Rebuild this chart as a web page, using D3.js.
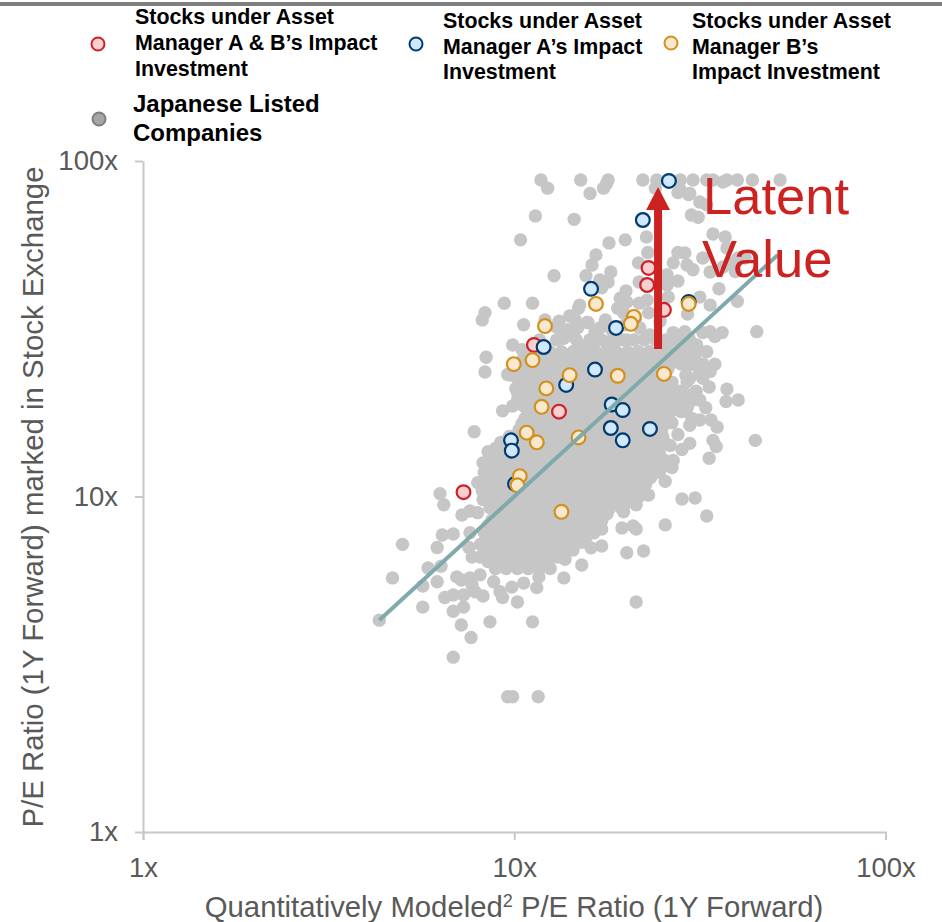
<!DOCTYPE html>
<html lang="en">
<head>
<meta charset="UTF-8">
<title>P/E Ratio scatter</title>
<script src="https://cdn.jsdelivr.net/npm/d3@7"></script>
<style>
  body { margin: 0; background: #fff; }
  text { font-family: "Liberation Sans", Arial, sans-serif; }
</style>
</head>
<body>
<div id="my_dataviz"></div>
<script>

// values are multiples (x = modeled P/E, y = market P/E)
var axisTicks = [1, 10, 100];
var tickLabels = ["1x", "10x", "100x"];

var companies = [
  [11.8,87.8],[12.3,83],[15.1,87.8],[16,80],[17.9,87.8],[17.7,85.4],[17.4,83],[22.2,87.8],[24.2,87.8],[24,83],
  [27.6,80.5],[29.5,79.5],[28,87.8],[30.3,87.8],[33,87.8],[34.3,87.8],[37.4,87.8],[39.9,87.8],[43.8,87.8],[52,87.8],
  [36.5,86.6],[28,82],[29.7,80],[31.6,75.5],[30,69],[31.3,68],[33,74],[11.4,68.6],[14.5,67],[10.4,58.2],
  [22.7,59.4],[19.9,58.2],[18,57],[16.6,52.5],[16.2,49],[15.6,45.5],[12.8,45.5],[22.9,53.4],[21.6,49.7],[18.2,46.7],
  [17,44.2],[17.9,43.6],[17.2,41.9],[34.3,60.6],[37,59.4],[27.6,53.4],[28.8,53.2],[26.8,49.7],[32.2,51.4],[29.2,49],
  [30.3,47.4],[33.7,46.7],[25.8,45.8],[27.6,43.9],[35.6,41.6],[25.8,42.7],[26,39.3],[31.6,39.3],[33.7,37.2],[39.9,38.2],
  [29.3,35],[20,41],[19.3,39],[19,36.4],[20.1,38],[21.7,37.7],[21.7,43.6],[23,35.3],[19.7,35.3],[14.9,36.4],
  [14.1,34.5],[13.2,33.3],[9.4,37.7],[11.2,37.7],[8.34,35.3],[8.2,33.6],[10.6,32.5],[15,37.2],[15.8,33],[17,31.8],
  [14.8,31.8],[13.9,31.4],[21.8,31.8],[24.7,33.3],[45,31],[36.3,30.8],[33.7,31],[28.8,31],[26.8,30.8],[22.8,38.5],
  [36.5,48.3],[38.1,49.7],[41.9,51.4],[37.4,55],[40.1,51.4],[39.4,46.8],[34.7,30],[32.2,30.8],
  [8.4,26],[8.34,23.5],[9.9,28.3],[10.5,27.4],[13,32],[15.7,33],[16.5,31],[14,30.3],[13.6,29.6],[15,28.1],
  [16.3,27.9],[18.5,27.9],[20.1,29.3],[31,28.3],[33,27],[34.7,24.8],[33.7,23.6],[29.7,24.7],[31.6,23.6],[33.5,21.2],
  [37.4,20.9],[40.1,19.4],[37.2,19.2],[30.9,20.6],[29.2,22],[28,20.6],[29.3,18.5],[32.8,18.4],[30.1,17.1],[33.9,16.9],
  [35.2,16.1],[26.6,16.6],[27.6,15.3],[29.7,14.4],[28.3,13.8],[34.3,14.7],[35,14.1],[44.6,14.7],[33.5,13],[26.8,12.8],
  [26.6,12.2],[23.2,11.9],[25.5,11.1],[21.4,11.1],[24.7,13.1],[24.7,16],[25.8,18.5],[24.7,21.5],[28,26.4],[25.8,28],
  [29.2,28.7],[9.3,18],[9.9,18.6],[10.2,20.4],[9.6,23.1],[10.5,21.3],[10.9,17.7],[10.5,16.5],[9.27,14.5],[8.5,13.6],
  [8.24,12.6],[9.15,13.1],[8.7,12],[8.34,11.2],[7.8,15.6],[7.97,11],[6.31,10.2],[6.46,9.45],[7.23,8.81],[7.6,9.05],
  [7.97,8.95],[8.24,9.8],[6.4,7.68],[6.85,7.73],[5,7.2],[6.2,7.05],[7.6,7.8],[7.55,7.05],[7.7,6.6],[5.86,6.12],
  [6.35,6.2],[4.7,5.72],[6.2,5.57],[5.67,5.41],[7,5.76],[7.2,5.64],[7.6,5.72],[8.09,5.84],[6.5,5],[6.85,5.09],
  [7.3,5.09],[7.84,5.2],[8.24,5.05],[7.7,5.45],[8.8,5.57],[9.15,5.2],[9.3,5],[9.85,5.37],[10.6,5.52],[11.5,5.35],
  [11.65,5.76],[10.2,4.85],[13.6,5.72],[15.2,6.25],[12.5,6.55],[13.7,6.5],[11.7,6.25],[17.2,7.12],[16.1,7.03],[15.2,7.3],
  [14.4,6.93],[14.1,7.58],[20.1,6.8],[22.3,6.88],[21.3,4.85],[6.85,4.55],[7.3,4.68],[5.67,4.68],[7.2,4.14],[8.6,4.23],
  [11.2,4.23],[7.65,3.8],[6.85,3.32],[9.6,2.53],[9.9,2.53],[11.6,2.53],[4.33,4.28],[17.2,8],[19.5,8.06],[20.9,8.17],
  [21.3,8],[25.5,8.23],[33,8.75],[28.3,9.83],[30.7,9.9],[23,10.1],[21.3,9.45],[19.7,9],[17.2,8.51],[18.9,9.45],[20.9,10.2],
  [17.6,33.6],[18.3,31.4],[19.9,32.5],[23.2,30.3],[21.2,33.8],[29.7,29.3],[30.7,26.4],[29.7,22.5],[30.3,20.1],[32.2,22.5],
  [31.6,19.4],[27.1,19.4],[26,17.5],[26.6,18.1],[29.7,16.3],[26.3,14.2],[28,18.1],[31.6,16.9],[25.5,26.4],[12.1,33.6],
  [13.3,29.6],[14.6,33.6],[16,29.3],[18.1,28.3]
];

// the solid middle of the cloud, row by row
var denseY = [29.3,27,25.9,24.8,23.9,23,21.9,21,20.2,19.4,18.6,17.9,17.1,16.4,15.8,15.1,14.5,13.9,13.4,12.8,12.3,11.8,11.4,10.9,10.4,10,9.6,9.25,8.9,8.5,8.2,7.8,7.55,7.2,6.95,6.6,6.4,6.1];
var denseX = [
  [11.7,13,14.7,16,17.2,18.4,19.6,21,22.4,24,25.6,27.3,29],
  [10.9,11.7,12.5,13.4,14.4,15.4,16.5,17.6,18.8,20.2,21.6,23.1,24.7,26.4,28.3,30.2],
  [10.6,11.3,12.1,13,13.9,14.8,15.9,17,18.2,19.5,20.8,22.3,23.9,25.5,27.3,29.2],
  [10.2,10.9,11.7,12.5,13.4,14.3,15.3,16.4,17.6,18.8,20.1,21.5,23,24.6,26.3,28.2,30.2,32.3],
  [10,10.6,11.4,12.2,13.1,14,15,16,17.2,18.4,19.7,21.1,22.6,24.2,25.9],
  [9.8,10.5,11.2,12,12.9,13.8,14.7,15.8,16.9,18,19.3,20.7,22.1,23.7,25.3,29],
  [10.3,11,11.8,12.6,13.5,14.5,15.5,16.6,17.8,19,20.3,21.8,23.3,24.9,26.6],
  [10.1,10.8,11.6,12.4,13.3,14.2,15.2,16.2,17.4,18.6,19.9,21.3,22.8,24.4,26.1],
  [10.4,11.2,12,12.8,13.7,14.7,15.7,16.8,18,19.3,20.6,22,23.6,25.2,27,28.9],
  [10.2,10.9,11.7,12.5,13.4,14.3,15.3,16.4,17.5,18.8,20.1,21.5,23,24.6,26.3,28.2,30.2],
  [10.6,11.3,12.1,13,13.9,14.8,15.9,17,18.2,19.4,20.8,22.3,23.8,25.5,27.2,29.2],
  [10.9,11.7,12.5,13.4,14.3,15.3,16.4,17.5,18.8,20.1,21.5,23,24.6,26.3,28.2],
  [10.7,11.5,12.3,13.2,14.1,15.1,16.1,17.3,18.5,19.8,21.2,22.6,24.2,25.9],
  [10.5,11.2,12,12.9,13.8,14.7,15.8,16.9,18,19.3,20.7,22.1,23.7,25.3],
  [10.3,11,11.8,12.6,13.5,14.5,15.5,16.6,17.8,19,20.3,21.8,23.3,24.9],
  [9.7,10.4,11.1,11.9,12.7,13.6,14.6,15.6,16.7,17.9,19.1,20.5,21.9,23.5,25.1],
  [9.2,9.8,10.5,11.3,12.1,12.9,13.8,14.8,15.8,16.9,18.1,19.4,20.7,22.2,23.8,25.4],
  [8.9,9.5,10.2,10.9,11.7,12.5,13.4,14.3,15.3,16.4,17.5,18.8,20.1,21.5,23,24.6],
  [8.9,9.5,10.2,10.9,11.7,12.5,13.4,14.3,15.3,16.4,17.5,18.8,20.1,21.5,23,24.6],
  [8.6,9.2,9.85,10.5,11.3,12.1,12.9,13.8,14.8,15.8,16.9,18.1,19.4,20.8,22.2,23.8,25.4],
  [8.5,9.1,9.7,10.4,11.1,11.9,12.8,13.7,14.6,15.7,16.8,17.9,19.2,20.6,22,23.6,25.2],
  [8.3,8.9,9.5,10.2,10.9,11.7,12.5,13.4,14.3,15.3,16.4,17.5,18.8,20.1,21.5,23,24.6],
  [8.4,9,9.6,10.3,11,11.8,12.6,13.5,14.5,15.5,16.6,17.8,19,20.3,21.8,23.3],
  [8.1,8.7,9.3,9.95,10.7,11.4,12.2,13.1,14,15,16,17.2,18.4,19.7,21.1,22.6],
  [8.2,8.8,9.4,10.1,10.8,11.6,12.4,13.3,14.2,15.2,16.3,17.4,18.7,20,21.4],
  [8.4,9,9.6,10.3,11,11.8,12.6,13.5,14.4,15.4,16.5,17.7,18.9,20.2,21.7],
  [8.9,9.5,10.2,10.9,11.7,12.5,13.4,14.3,15.3,16.4,17.5,18.8,20.1],
  [8.6,9.2,9.85,10.5,11.3,12.1,12.9,13.8,14.8,15.8,16.9,18.1,19.4],
  [9,9.6,10.3,11,11.8,12.6,13.5,14.5,15.5,16.6,17.8],
  [8.7,9.3,9.95,10.7,11.4,12.2,13.1,14,15,16,17.2],
  [8.5,9.1,9.7,10.4,11.1,11.9,12.8,13.7,14.6,15.7,16.8],
  [8.3,8.9,9.5,10.2,10.9,11.7,12.5,13.4,14.3,15.3,16.4],
  [8.5,9,9.7,10.3,11,11.8,12.7,13.6,14.6,15.6],
  [8.1,8.7,9.3,9.95,10.7,11.4,12.2,13.1,14],
  [8.4,9,9.6,10.3,11.1,11.9,12.7,13.5],
  [8.1,8.7,9.3,9.95,10.7,11.4,12.2,13.1],
  [8.5,9.2,9.85,10.6,11.3,12],
  [8.9,9.5,10.2,10.9,11.7,12.5]
];

var managerAB = [[23,48],[22.8,42.7],[25.3,36],[11.3,28.3],[13.2,17.9],[7.3,10.3]];
var managerA = [[26.1,87.2],[22.2,66.7],[16.1,41.6],[18.8,31.8],[12,27.9],[16.5,23.9],[13.8,21.5],[18.3,18.8],
  [19.6,18.1],[18.2,16],[23.2,15.9],[19.6,14.7],[9.8,14.7],[9.85,13.7],[29.5,38],[10.05,10.9]];
var managerB = [[16.6,37.5],[21,34.3],[20.6,32.7],[29.5,37.5],[12.1,32.2],[11.2,25.5],[9.97,24.8],[14.1,23],[19,22.9],
  [25.3,23.2],[12.2,21],[11.85,18.5],[10.8,15.5],[11.5,14.5],[14.9,15],[13.4,9],[10.35,11.5],[10.2,10.8]];

var trendLine = [[4.33,4.28],[51.3,52.5]];
var latentArrow = [[24.4,27.5],[24.4,71.4]];

var width = 942, height = 922;

var svg = d3.select("#my_dataviz")
    .append("svg")
    .attr("width", width)
    .attr("height", height)
    .style("display", "block");

// rule along the top of the slide
svg.append("rect").attr("x", 0).attr("y", 2).attr("width", width).attr("height", 4).style("fill", "#808080");

var x = d3.scaleLog().domain([1, 100]).range([143, 885.5]);
var y = d3.scaleLog().domain([1, 100]).range([832, 161]);

function styleAxis(g) {
  g.select(".domain").attr("stroke", "#c8c8c8").attr("stroke-width", 2);
  g.selectAll(".tick line").attr("stroke", "#c8c8c8").attr("stroke-width", 2);
  g.selectAll(".tick text")
    .attr("fill", "#595959")
    .style("font-family", '"Liberation Sans", Arial, sans-serif')
    .style("font-size", "27.5px");
}

svg.append("g")
  .attr("transform", "translate(0,832)")
  .call(d3.axisBottom(x).tickValues(axisTicks).tickFormat(function(d, i) { return tickLabels[i]; })
    .tickSize(8).tickSizeOuter(8).tickPadding(17))
  .call(styleAxis);

svg.append("g")
  .attr("transform", "translate(143,0)")
  .call(d3.axisLeft(y).tickValues(axisTicks).tickFormat(function(d, i) { return tickLabels[i]; })
    .tickSize(8).tickSizeOuter(0).tickPadding(17))
  .call(styleAxis);

// gray cloud
var cloud = companies.slice();
denseY.forEach(function(v, i) {
  denseX[i].forEach(function(u) { cloud.push([u, v]); });
});

svg.append("g").selectAll("circle")
  .data(cloud)
  .enter().append("circle")
    .attr("cx", function(d) { return x(d[0]); })
    .attr("cy", function(d) { return y(d[1]); })
    .attr("r", 6.7)
    .style("fill", "#c6c6c6");

function dots(data, fill, stroke) {
  svg.append("g").selectAll("circle")
    .data(data)
    .enter().append("circle")
      .attr("cx", function(d) { return x(d[0]); })
      .attr("cy", function(d) { return y(d[1]); })
      .attr("r", 6.9)
      .style("fill", fill)
      .style("stroke", stroke)
      .style("stroke-width", 2.2);
}

dots(managerAB, "#f9cfcf", "#cc2229");
dots(managerA, "#cfe8fb", "#003a70");
dots(managerB, "#fae8cc", "#d1901f");

var line = d3.line()
  .x(function(d) { return x(d[0]); })
  .y(function(d) { return y(d[1]); });

svg.append("path")
  .datum(trendLine)
  .attr("fill", "none")
  .attr("stroke", "#7fa9ab")
  .attr("stroke-width", 4)
  .attr("d", line);

// Latent value arrow, the head starts where the shaft ends
svg.append("svg:defs").append("svg:marker")
    .attr("id", "triangle")
    .attr("markerUnits", "userSpaceOnUse")
    .attr("refX", 0)
    .attr("refY", 12)
    .attr("markerWidth", 24)
    .attr("markerHeight", 24)
    .attr("orient", "auto")
    .append("path")
    .attr("d", "M 0 0 23 12 0 24 Z")
    .style("fill", "#cc2220");

svg.append("path")
  .datum(latentArrow)
  .attr("fill", "none")
  .attr("stroke", "#cc2220")
  .attr("stroke-width", 8)
  .attr("marker-end", "url(#triangle)")
  .attr("d", line);

svg.append("text").attr("x", 703).attr("y", 214).text("Latent").style("font-size", "52.5px").style("fill", "#cc2220");
svg.append("text").attr("x", 702).attr("y", 277).text("Value").style("font-size", "52.5px").style("fill", "#cc2220");

// axis titles
svg.append("text")
  .attr("transform", "translate(43,497) rotate(-90)")
  .attr("text-anchor", "middle")
  .style("font-size", "29.4px")
  .style("fill", "#595959")
  .text("P/E Ratio (1Y Forward) marked in Stock Exchange");

var xTitle = svg.append("text")
  .attr("x", 514)
  .attr("y", 917)
  .attr("text-anchor", "middle")
  .style("font-size", "29.3px")
  .style("fill", "#595959");
xTitle.append("tspan").text("Quantitatively Modeled");
xTitle.append("tspan").attr("dy", -10).style("font-size", "18px").text("2");
xTitle.append("tspan").attr("dy", 10).text(" P/E Ratio (1Y Forward)");

// legend
var legendNames = [
  ["Stocks under Asset", "Manager A & B\u2019s Impact", "Investment"],
  ["Stocks under Asset", "Manager A\u2019s Impact", "Investment"],
  ["Stocks under Asset", "Manager B\u2019s", "Impact Investment"],
  ["Japanese Listed", "Companies"]
];
var legendFill = ["#f9cfcf", "#cfe8fb", "#fae8cc", "#a6a6a6"];
var legendStroke = ["#cc2229", "#003a70", "#d1901f", "#7f7f7f"];
var legendCx = [98, 416, 671, 99];
var legendCy = [44, 44, 43, 119];
var legendTx = [135, 443, 692, 133];
var legendTy = [24, 28, 28, 112];
var legendStep = [26, 25.5, 25.5, 28.5];
var legendSize = [21.4, 21.4, 21.4, 24];

legendNames.forEach(function(names, i) {
  svg.append("circle")
    .attr("cx", legendCx[i]).attr("cy", legendCy[i]).attr("r", 6.5)
    .style("fill", legendFill[i]).style("stroke", legendStroke[i]).style("stroke-width", 2);
  names.forEach(function(t, j) {
    svg.append("text")
      .attr("x", legendTx[i])
      .attr("y", legendTy[i] + j * legendStep[i])
      .style("font-size", legendSize[i] + "px")
      .style("font-weight", "bold")
      .style("fill", "#000")
      .text(t);
  });
});

</script>
</body>
</html>
